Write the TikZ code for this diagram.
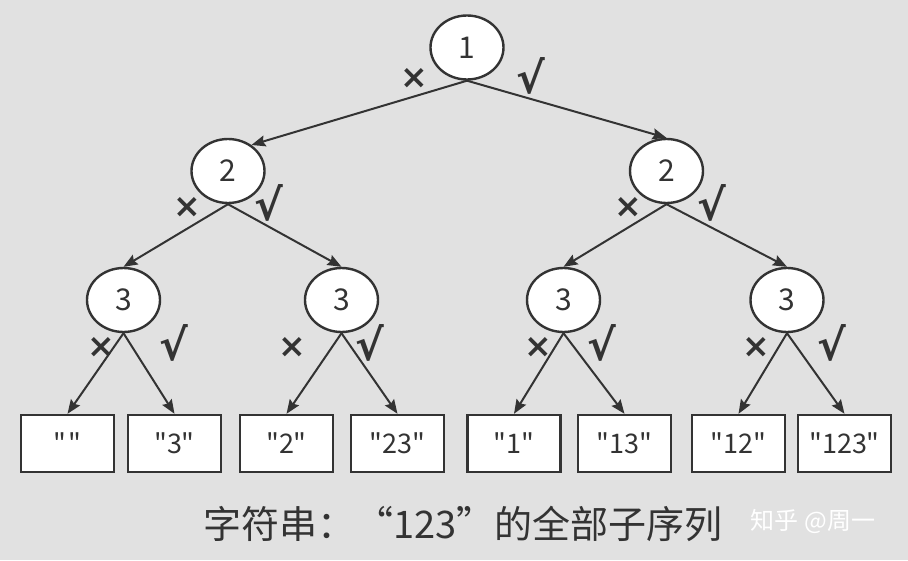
\documentclass[tikz,border=0pt]{standalone}
\usepackage{fontspec}
\newfontfamily\cjk{Noto Sans CJK SC}
\newfontfamily\sym{DejaVu Sans}
\usetikzlibrary{arrows.meta,shapes.geometric}
\definecolor{bg}{HTML}{E1E1E1}
\definecolor{ink}{HTML}{333333}
\begin{document}
\begin{tikzpicture}[x=1pt,y=-1pt,
  circ/.style={ellipse, draw=ink, line width=2.4pt, fill=white, minimum width=73pt, minimum height=64pt, inner sep=0pt, font=\cjk\fontsize{30}{30}\selectfont, text=ink},
  leaf/.style={rectangle, draw=ink, line width=2.4pt, fill=white, minimum width=93pt, minimum height=57pt, inner sep=0pt, font=\cjk\fontsize{27}{27}\selectfont, text=ink},
  edge/.style={draw=ink, line width=2pt, -{Stealth[length=14pt,width=11pt,inset=2pt]}},
  xlbl/.style={font=\sym\bfseries\fontsize{33}{33}\selectfont, text=ink, inner sep=0pt},
  vlbl/.style={font=\sym\bfseries\fontsize{43}{43}\selectfont, text=ink, inner sep=0pt}
]
\fill[bg] (0,0) rectangle (908,560);
\useasboundingbox (0,0) rectangle (908,560);

% nodes
\node[circ] (n1) at (467,47.5) {1};
\node[circ] (l2a) at (228,171) {2};
\node[circ] (l2b) at (666.5,171) {2};
\node[circ] (l3a) at (123.5,300) {3};
\node[circ] (l3b) at (341.5,300) {3};
\node[circ] (l3c) at (563.5,300) {3};
\node[circ] (l3d) at (787,300) {3};

\node[leaf] (f1) at (67.5,443.5) {"\kern3pt"};
\node[leaf] (f2) at (174.5,443.5) {"3"};
\node[leaf] (f3) at (286.5,443.5) {"2"};
\node[leaf] (f4) at (397.5,443.5) {"23"};
\node[leaf] (f5) at (514,443.5) {"1"};
\node[leaf] (f6) at (624.5,443.5) {"13"};
\node[leaf] (f7) at (738.5,443.5) {"12"};
\node[leaf] (f8) at (844.5,443.5) {"123"};

% edges
\draw[edge] (n1.south) -- (l2a.48);
\draw[edge] (n1.south) -- (l2b.north);
\draw[edge] (l2a.south) -- (l3a.north);
\draw[edge] (l2a.south) -- (l3b.north);
\draw[edge] (l2b.south) -- (l3c.north);
\draw[edge] (l2b.south) -- (l3d.north);
\draw[edge] (l3a.south) -- (f1.north);
\draw[edge] (l3a.south) -- (f2.north);
\draw[edge] (l3b.south) -- (f3.north);
\draw[edge] (l3b.south) -- (f4.north);
\draw[edge] (l3c.south) -- (f5.north);
\draw[edge] (l3c.south) -- (f6.north);
\draw[edge] (l3d.south) -- (f7.north);
\draw[edge] (l3d.south) -- (f8.north);

% labels
\node[xlbl] (x1) at (414.5,78.5) {×};
\node[vlbl] (v1) at (531,75.5) {√};
\node[xlbl] (x2) at (187,207) {×};
\node[vlbl] (v2) at (269,203) {√};
\node[xlbl] (x3) at (628,207) {×};
\node[vlbl] (v3) at (712,203) {√};
\node[xlbl] (x4) at (101,347) {×};
\node[vlbl] (v4) at (174,343) {√};
\node[xlbl] (x5) at (292,347) {×};
\node[vlbl] (v5) at (370,343) {√};
\node[xlbl] (x6) at (538,347) {×};
\node[vlbl] (v6) at (602,343) {√};
\node[xlbl] (x7) at (756,347) {×};
\node[vlbl] (v7) at (832,343) {√};

% caption
\node[font=\cjk\fontsize{38}{38}\selectfont, text=ink, inner sep=0pt] (cap) at (463,524) {字符串：“123”的全部子序列};
\node[font=\cjk\fontsize{24}{24}\selectfont, text=white, inner sep=0pt] (wm) at (813,521) {知乎 @周一};
\end{tikzpicture}
\end{document}
